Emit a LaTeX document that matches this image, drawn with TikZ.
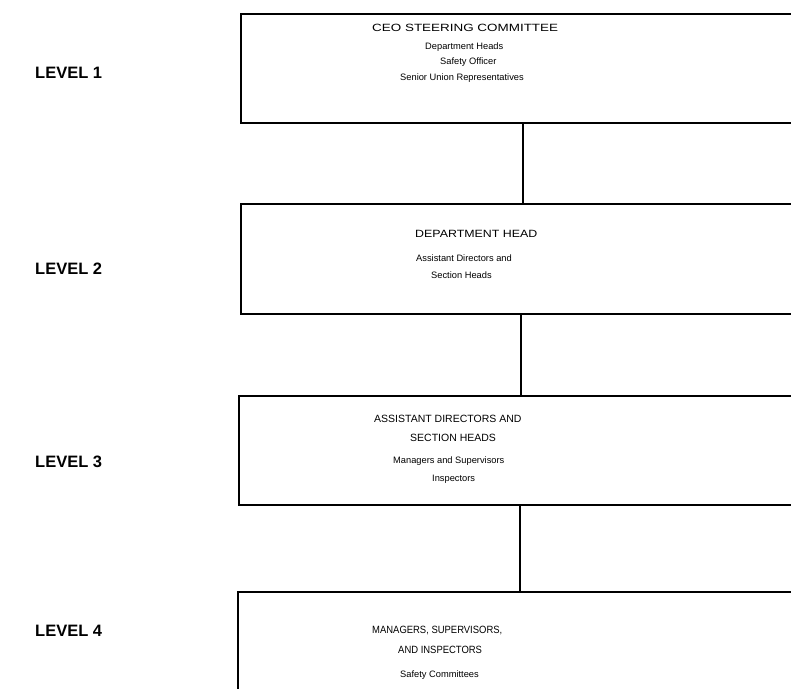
\documentclass[tikz,border=0pt]{standalone}
\usepackage{fontspec}
\setmainfont{Liberation Sans}
\begin{document}
\begin{tikzpicture}[x=1pt,y=-1pt,
  box/.style={draw=black, line width=1.2pt, inner sep=0pt, outer sep=0pt, anchor=north west},
  lvl/.style={font=\fontsize{16.5}{18}\selectfont\bfseries, anchor=west, inner sep=0pt},
  ttl/.style={font=\fontsize{10.5}{12}\selectfont, anchor=west, inner sep=0pt},
  txt/.style={font=\fontsize{9.3}{11}\selectfont, anchor=west, inner sep=0pt},
  conn/.style={draw=black, line width=1.6pt}]
\useasboundingbox (0,0) rectangle (791,688);
\fill[white] (0,0) rectangle (791,688);
\clip (0,0) rectangle (791,688);
% level labels
\node[lvl] (l1) at (35,73) {LEVEL 1};
\node[lvl] (l2) at (35,269) {LEVEL 2};
\node[lvl] (l3) at (35,462) {LEVEL 3};
\node[lvl] (l4) at (35,631) {LEVEL 4};
% boxes
\node[box, minimum width=600pt, minimum height=109pt] (b1) at (241,14) {};
\node[box, minimum width=600pt, minimum height=110pt] (b2) at (241,204) {};
\node[box, minimum width=600pt, minimum height=109pt] (b3) at (239,396) {};
\node[box, minimum width=600pt, minimum height=140pt] (b4) at (238,592) {};
% thicker left edges
\draw[line width=2pt] (b1.north west) -- (b1.south west);
\draw[line width=2pt] (b2.north west) -- (b2.south west);
\draw[line width=2pt] (b3.north west) -- (b3.south west);
\draw[line width=2pt] (b4.north west) -- (b4.south west);
% connectors
\draw[conn] ([xshift=282pt]b1.south west) -- ([xshift=282pt]b1.south west |- b2.north);
\draw[conn] ([xshift=280pt]b2.south west) -- ([xshift=280pt]b2.south west |- b3.north);
\draw[conn] ([xshift=281pt]b3.south west) -- ([xshift=281pt]b3.south west |- b4.north);
% box 1 text
\node[ttl] (t1) at (372,28) {\scalebox{1.28}[1]{CEO STEERING COMMITTEE}};
\node[txt] (t1a) at (425,47) {Department Heads};
\node[txt] (t1b) at (440,62) {Safety Officer};
\node[txt] (t1c) at (400,78) {Senior Union Representatives};
% box 2 text
\node[ttl] (t2) at (415,234) {\scalebox{1.18}[1]{DEPARTMENT HEAD}};
\node[txt] (t2a) at (416,258) {Assistant Directors and};
\node[txt] (t2b) at (431,275) {Section Heads};
% box 3 text
\node[ttl] (t3) at (374,419) {ASSISTANT DIRECTORS AND};
\node[ttl] (t3x) at (410,438) {SECTION HEADS};
\node[txt] (t3a) at (393,461) {Managers and Supervisors};
\node[txt] (t3b) at (432,479) {Inspectors};
% box 4 text
\node[ttl] (t4) at (372,630) {\scalebox{0.9}[1]{MANAGERS, SUPERVISORS,}};
\node[ttl] (t4x) at (398,650) {\scalebox{0.9}[1]{AND INSPECTORS}};
\node[txt] (t4a) at (400,675) {Safety Committees};
\end{tikzpicture}
\end{document}
